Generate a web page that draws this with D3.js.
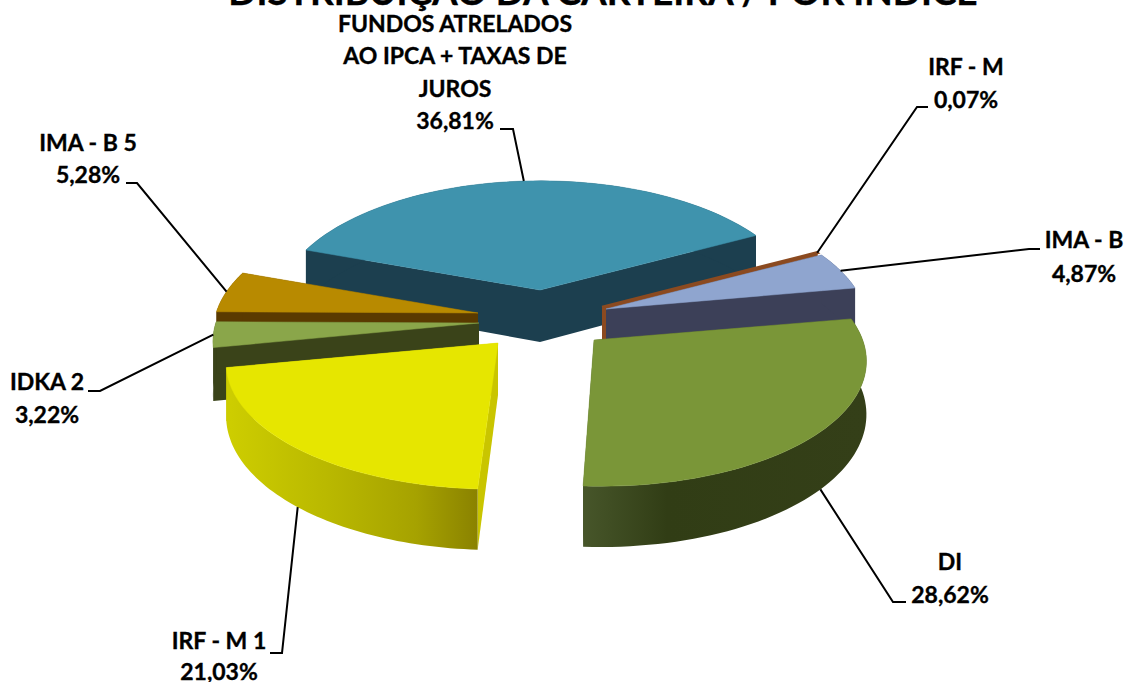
<!DOCTYPE html>
<html>
<head>
<meta charset="utf-8">
<script src="https://cdnjs.cloudflare.com/ajax/libs/d3/7.8.5/d3.min.js"></script>
<style>
  html, body { margin: 0; padding: 0; background: #fff; overflow: hidden; }
  text { font-family: Lato, sans-serif; font-weight: 700; fill: #000; stroke: #000; stroke-width: 0.35px; }
</style>
</head>
<body>
<svg id="chart" width="1127" height="682"></svg>
<script>
// chart values, in clockwise order as in the picture
let categories = ['FUNDOS ATRELADOS AO IPCA + TAXAS DE JUROS', 'IRF - M', 'IMA - B', 'DI', 'IRF - M 1', 'IDKA 2', 'IMA - B 5']
let values = [36.81, 0.07, 4.87, 28.62, 21.03, 3.22, 5.28]

// looks of each slice
let topColors = ['#3f93ad', '#8b4a20', '#8fa5cf', '#7a9638', '#e6e600', '#8aa64a', '#b88a00']
let cutColors = ['#1c3f4f', '#8b4a20', '#3c4058', '#3a4719', '#c9c500', '#3a4319', '#5a3a00']
let wallColors = ['#1c3f4f', '#8b4a20', '#3c4058', 'url(#wall-di)', 'url(#wall-yellow)', '#3a4319', '#5a3a00']

// layout of each slice: where the tip sits once the slice is pulled out
let tipX = [540, 602, 606, 594, 498, 479, 478]
let tipY = [290, 307, 309, 340, 343, 323, 313]
let widthFactor = [0.965, 0.96, 0.96, 0.995, 0.995, 0.975, 0.97]
let skew = [0, 0, 0, 0.045, -0.02, 0, 0] // perspective leans the front edges a bit
let drawOrder = [0, 1, 2, 6, 5, 3, 4]

// label lines and where they go
let labelLines = [
  ['FUNDOS ATRELADOS', 'AO IPCA + TAXAS DE', 'JUROS'],
  ['IRF - M'], ['IMA - B'], ['DI'], ['IRF - M 1'], ['IDKA 2'], ['IMA - B 5']
]
let labelX = [455, 966, 1084, 950, 219, 47, 88]
let labelY = [[32, 64, 97, 129], [75, 108], [248, 282], [570, 603], [649, 680], [390, 423], [151, 183]]
let leaderElbows = [
  [[513, 129], [500, 129]],
  [[917, 107], [928, 107]],
  [[1029, 249], [1040, 249]],
  [[893, 602], [906, 602]],
  [[282, 653], [270, 653]],
  [[100, 391], [88, 391]],
  [[137, 183], [126, 183]]
]

let svg = d3.select('#chart')

// pie angles, clockwise from the top of the ellipse
let pie = d3.pie().sort(null).startAngle(-70.4 * Math.PI / 180).endAngle(289.6 * Math.PI / 180)
let slices = pie(values)

let uScale = d3.scaleLinear().domain([-1, 1]).range([-270, 270])
let vScale = d3.scaleLinear().domain([-1, 1]).range([-125, 125])
let depth = 52
let tilt = 0.145 // front of the pie looks bigger than the back

// angle on a slice -> point on the page, raised or lowered by the wall height
function project(i, angle, drop) {
  let u = Math.sin(angle) * widthFactor[i]
  let v = -Math.cos(angle)
  let w = 1 / (1 + tilt * Math.cos(angle))
  return [tipX[i] + uScale(u) * w + skew[i] * vScale(v) * w, tipY[i] + vScale(v) * w + drop * w]
}

let line = d3.line()

function arcPoints(i, d, drop) {
  return d3.range(0, 61).map(n => {
    let a = d.startAngle + (d.endAngle - d.startAngle) * n / 60
    return project(i, a, drop)
  })
}

// gradients for the two big front walls
let defs = svg.append('defs')
function addGradient(id, x1, x2, stops) {
  let g = defs.append('linearGradient').attr('id', id)
    .attr('gradientUnits', 'userSpaceOnUse')
    .attr('x1', x1).attr('x2', x2).attr('y1', 0).attr('y2', 0)
  g.selectAll('stop').data(stops).enter().append('stop')
    .attr('offset', d => d[0]).attr('stop-color', d => d[1])
}
addGradient('wall-yellow', 230, 478, [[0, '#cdcd00'], [0.4, '#b9b800'], [0.75, '#a6a200'], [1, '#8a8200']])
addGradient('wall-di', 583, 864, [[0, '#47562a'], [0.3, '#313d15'], [1, '#343f18']])

// slices, back to front: cut faces, outer wall, then top
let pieces = svg.append('g').selectAll('g')
  .data(drawOrder)
  .enter()
  .append('g')

pieces.each(function (i) {
  let d = slices[i]
  let g = d3.select(this)
  let tip = [tipX[i], tipY[i]]
  let tipLow = [tipX[i], tipY[i] + depth]
  let top = arcPoints(i, d, 0)
  let low = arcPoints(i, d, depth)

  g.append('path')
    .attr('d', line([tip, top[0], low[0], tipLow]) + 'Z')
    .attr('fill', cutColors[i])
  g.append('path')
    .attr('d', line([tip, top[60], low[60], tipLow]) + 'Z')
    .attr('fill', cutColors[i])
  g.append('path')
    .attr('d', line(top.concat(low.slice().reverse())) + 'Z')
    .attr('fill', wallColors[i])
  g.append('path')
    .attr('d', line([tip].concat(top)) + 'Z')
    .attr('fill', topColors[i])
    .attr('stroke', topColors[i])
    .attr('stroke-width', values[i] < 1 ? 2.5 : 0.5)
})

// leader lines start on the slice edge at its middle angle
let wallOnFront = [false, false, false, true, true, false, false]
svg.append('g').selectAll('path')
  .data(slices)
  .enter()
  .append('path')
  .attr('d', (d, i) => {
    let mid = (d.startAngle + d.endAngle) / 2
    return line([project(i, mid, wallOnFront[i] ? depth : 0)].concat(leaderElbows[i]))
  })
  .attr('fill', 'none')
  .attr('stroke', '#000')
  .attr('stroke-width', 2)

// labels
slices.forEach((d, i) => {
  let lines = labelLines[i].concat(d.value.toFixed(2).replace('.', ',') + '%')
  svg.append('g').selectAll('text')
    .data(lines)
    .enter()
    .append('text')
    .text(t => t)
    .attr('x', labelX[i])
    .attr('y', (t, n) => labelY[i][n])
    .attr('text-anchor', 'middle')
    .style('font-size', '23px')
})

svg.append('text')
  .text('DISTRIBUIÇÃO DA CARTEIRA / POR ÍNDICE')
  .attr('x', 603)
  .attr('y', 5)
  .attr('text-anchor', 'middle')
  .style('font-size', '37px')
</script>
</body>
</html>
